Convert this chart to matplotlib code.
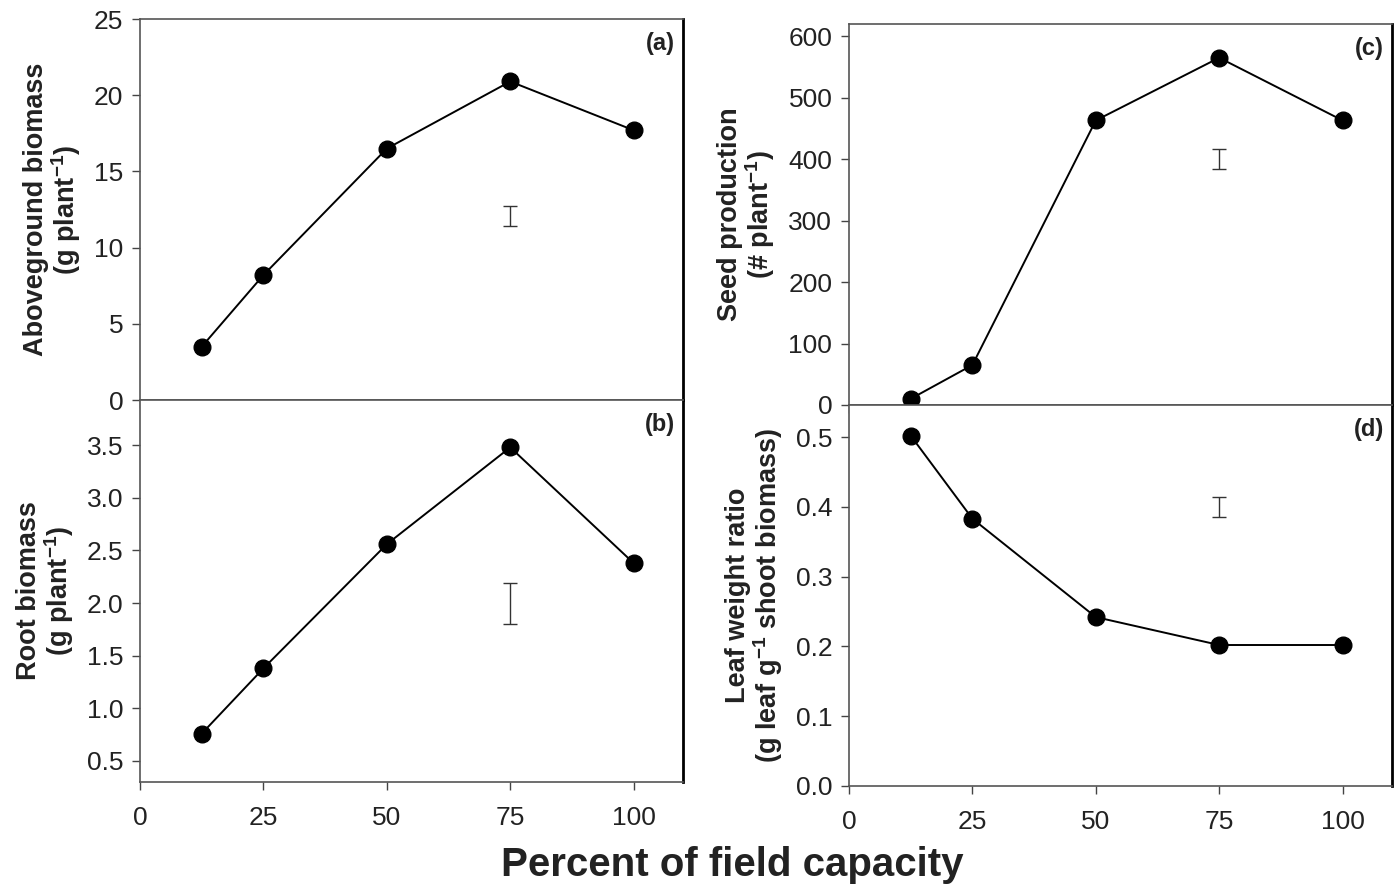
import matplotlib
matplotlib.use("Agg")
import matplotlib.pyplot as plt

plt.rcParams["mathtext.fontset"] = "custom"
plt.rcParams["mathtext.rm"] = "Liberation Sans"
plt.rcParams["mathtext.bf"] = "Liberation Sans:bold"

# field capacity levels (%)
pct = [12.5, 25, 50, 75, 100]

biomass = [3.5, 8.2, 16.5, 20.9, 17.7]
root = [0.76, 1.38, 2.56, 3.48, 2.38]
seeds = [10, 65, 463, 565, 463]
lwr = [0.502, 0.383, 0.242, 0.202, 0.202]

# LSD-style bars drawn at x=75: (centre, half-width)
bar_biomass = (12.05, 0.65)
bar_root = (2.0, 0.195)
bar_seeds = (400, 16)
bar_lwr = (0.400, 0.014)

font = ["Liberation Sans", "DejaVu Sans"]

fig = plt.figure(figsize=(13.95, 8.84), dpi=100)

W = 0.3892
panels = [
    # rect, y, bar, ylim, yticks, ticklabels, ylabel, tag, show x
    ([0.1004, 0.5475, W, 0.4310], biomass, bar_biomass, (0, 25),
     [0, 5, 10, 15, 20, 25], ["0", "5", "10", "15", "20", "25"],
     "Aboveground biomass\n(g plant$^{\\mathbf{-1}}$)", "(a)", False),
    ([0.1004, 0.1154, W, 0.4321], root, bar_root, (0.3, 3.93),
     [0.5, 1.0, 1.5, 2.0, 2.5, 3.0, 3.5], ["0.5", "1.0", "1.5", "2.0", "2.5", "3.0", "3.5"],
     "Root biomass\n(g plant$^{\\mathbf{-1}}$)", "(b)", True),
    ([0.6086, 0.5419, W, 0.4310], seeds, bar_seeds, (0, 620),
     [0, 100, 200, 300, 400, 500, 600], ["0", "100", "200", "300", "400", "500", "600"],
     "Seed production\n(# plant$^{\\mathbf{-1}}$)", "(c)", False),
    ([0.6086, 0.1109, W, 0.4310], lwr, bar_lwr, (0, 0.546),
     [0.0, 0.1, 0.2, 0.3, 0.4, 0.5], ["0.0", "0.1", "0.2", "0.3", "0.4", "0.5"],
     "Leaf weight ratio\n(g leaf g$^{\\mathbf{-1}}$ shoot biomass)", "(d)", True),
]

for rect, y, bar, ylim, yt, ytl, ylab, tag, showx in panels:
    ax = fig.add_axes(rect)
    ax.plot(pct, y, color="black", lw=1.4, marker="o", ms=12, zorder=3)
    ax.errorbar([75], [bar[0]], yerr=[bar[1]], color="#333333", lw=1.0,
                capsize=5, capthick=1.0, fmt="none")
    ax.set_xlim(0, 110)
    ax.set_ylim(*ylim)
    ax.set_xticks([0, 25, 50, 75, 100])
    ax.set_yticks(yt)
    ax.set_yticklabels(ytl, family=font, fontsize=19, color="#222222")
    if showx:
        ax.set_xticklabels(["0", "25", "50", "75", "100"], family=font,
                           fontsize=19, color="#222222")
    else:
        ax.set_xticklabels([])
    ax.tick_params(direction="out", length=6, width=1.0, color="#444444", pad=6)
    ax.tick_params(axis="x", pad=11)
    for s in ["left", "top", "bottom"]:
        ax.spines[s].set_color("#555555")
        ax.spines[s].set_linewidth(1.2)
    ax.spines["right"].set_color("black")
    ax.spines["right"].set_linewidth(2.0)
    ax.set_ylabel(ylab, family=font, fontweight="bold", fontsize=19.5,
                  linespacing=1.0, labelpad=8, color="#222222")
    ax.text(0.985, 0.965, tag, transform=ax.transAxes, ha="right", va="top",
            family=font, fontweight="bold", fontsize=17, color="#222222")

fig.text(0.525, 0.021, "Percent of field capacity", ha="center", va="center",
         family=font, fontweight="bold", fontsize=29, color="#222222")

fig.savefig("out.png", dpi=100)
